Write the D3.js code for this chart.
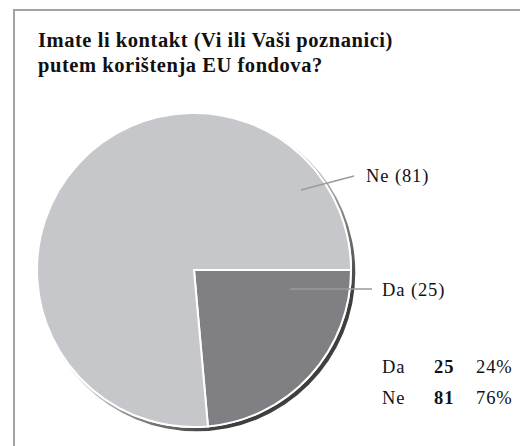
<!DOCTYPE html>
<html lang="hr">
<head>
  <meta charset="UTF-8">
  <title>EU fondovi</title>
  <style>
    body { margin: 0; background: #fff; }
    svg { display: block; }
    text { font-family: "Liberation Serif", "Times New Roman", serif; fill: #111; }
  </style>
</head>
<body>
  <script src="https://d3js.org/d3.v7.min.js"></script>
  <script>
    const labels = ['Da', 'Ne'];
    const counts = [25, 81];
    const colors = ['#807f83', '#c6c7cb'];
    const titleLines = ['Imate li kontakt (Vi ili Vaši poznanici)', 'putem korištenja EU fondova?'];

    const width = 520, height = 446;
    const cx = 194, cy = 270, r = 157;

    const svg = d3.select('body').append('svg')
      .attr('width', width)
      .attr('height', height);

    // frame (runs off the right and bottom)
    svg.append('rect')
      .attr('x', 14).attr('y', 10)
      .attr('width', 540).attr('height', 480)
      .attr('fill', 'none')
      .attr('stroke', '#a3a3a3')
      .attr('stroke-width', 2);

    svg.selectAll('.title')
      .data(titleLines)
      .enter().append('text')
      .attr('class', 'title')
      .attr('x', 38)
      .attr('y', (d, i) => 47 + i * 25)
      .attr('font-size', 20.5)
      .attr('letter-spacing', 0.55)
      .attr('font-weight', 'bold')
      .text(d => d);

    const defs = svg.append('defs');
    const grad = defs.append('linearGradient')
      .attr('id', 'shadow')
      .attr('x1', '0').attr('y1', '0')
      .attr('x2', '1').attr('y2', '1');
    grad.append('stop').attr('offset', '45%').attr('stop-color', '#e4e4e4');
    grad.append('stop').attr('offset', '78%').attr('stop-color', '#3f3f3f');

    const total = d3.sum(counts);
    const data = labels.map((l, i) => ({ label: l, value: counts[i], color: colors[i] }));

    const pie = d3.pie()
      .sort(null)
      .value(d => d.value)
      .startAngle(Math.PI / 2)
      .endAngle(Math.PI / 2 + 2 * Math.PI);

    const arc = d3.arc().innerRadius(0).outerRadius(r);

    const g = svg.append('g').attr('transform', `translate(${cx},${cy})`);

    g.append('circle')
      .attr('cx', 2.5).attr('cy', 2.5)
      .attr('r', r + 1.8)
      .attr('fill', 'url(#shadow)');

    g.append('circle')
      .attr('r', r + 1)
      .attr('fill', '#fff');

    g.selectAll('.slice')
      .data(pie(data))
      .enter().append('path')
      .attr('class', 'slice')
      .attr('d', arc)
      .attr('fill', d => d.data.color)
      .attr('stroke', '#fff')
      .attr('stroke-width', 2)
      .attr('stroke-linejoin', 'miter');

    // leader lines and callout labels
    const callouts = [
      { label: 'Da', x1: 290, y1: 289, x2: 372, y2: 289, tx: 382, ty: 296 },
      { label: 'Ne', x1: 301, y1: 190, x2: 354, y2: 176, tx: 366, ty: 182 }
    ];

    svg.selectAll('.leader')
      .data(callouts)
      .enter().append('line')
      .attr('class', 'leader')
      .attr('x1', d => d.x1).attr('y1', d => d.y1)
      .attr('x2', d => d.x2).attr('y2', d => d.y2)
      .attr('stroke', '#9a9a9a')
      .attr('stroke-width', 1.5);

    svg.selectAll('.callout')
      .data(callouts)
      .enter().append('text')
      .attr('class', 'callout')
      .attr('x', d => d.tx)
      .attr('y', d => d.ty)
      .attr('font-size', 18.5)
      .attr('letter-spacing', 0.9)
      .text(d => `${d.label} (${counts[labels.indexOf(d.label)]})`);

    // summary table
    const rows = svg.selectAll('.row')
      .data(data)
      .enter().append('g')
      .attr('class', 'row')
      .attr('transform', (d, i) => `translate(0,${373 + i * 31})`);

    rows.append('text').attr('x', 382).attr('font-size', 18.5).attr('letter-spacing', 0.9).text(d => d.label);
    rows.append('text').attr('x', 434).attr('font-size', 18.5).attr('letter-spacing', 0.9)
      .attr('font-weight', 'bold').text(d => d.value);
    rows.append('text').attr('x', 476).attr('font-size', 18.5).attr('letter-spacing', 0.9)
      .text(d => Math.round(d.value / total * 100) + '%');
  </script>
</body>
</html>
